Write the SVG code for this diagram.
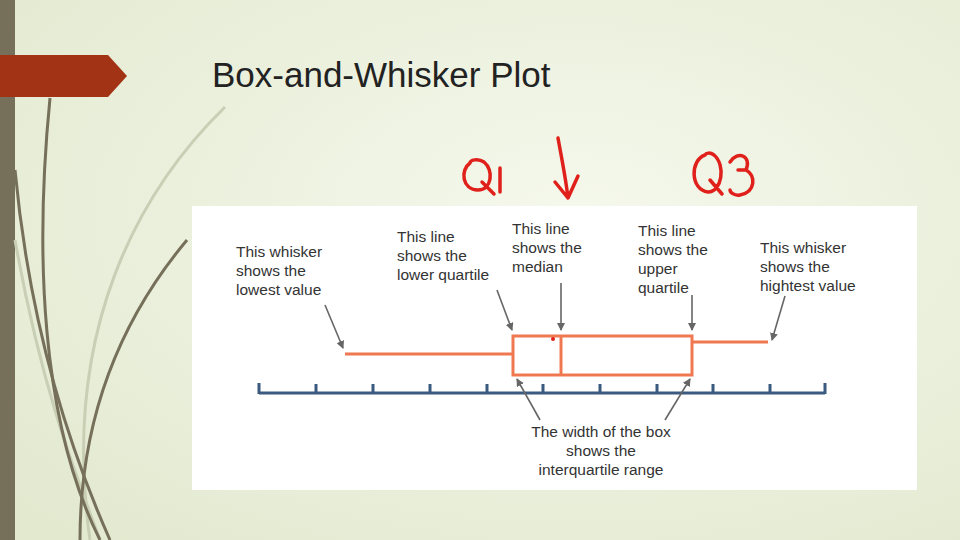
<svg xmlns="http://www.w3.org/2000/svg" width="960" height="540" viewBox="0 0 960 540">
<defs>
<radialGradient id="bg" cx="0.6" cy="0.4" r="0.8"><stop offset="0" stop-color="#f5f8ec"/><stop offset="1" stop-color="#e2e9cf"/></radialGradient>
<marker id="ah" markerWidth="8" markerHeight="8" refX="7" refY="4" orient="auto" markerUnits="userSpaceOnUse"><path d="M0,0 L8,4 L0,8 Z" fill="#666"/></marker>
<style>
.t{font-family:"Liberation Sans",Arial,sans-serif;font-size:15.5px;fill:#333}
.c{stroke:#666;stroke-width:1.6;fill:none;marker-end:url(#ah)}
.o{stroke:#f07850;stroke-width:3;fill:none}
.g{fill:none;stroke:#76705a;stroke-width:3}
.gl{fill:none;stroke:#c9cfb5;stroke-width:3}
.hw{fill:none;stroke:#e0201a;stroke-width:3.5;stroke-linecap:round;stroke-linejoin:round}
</style>
</defs>
<rect width="960" height="540" fill="url(#bg)"/>
<g id="decor">
<rect x="0" y="0" width="15" height="540" fill="#76705a"/>
<path class="gl" d="M225,107 C140,190 60,330 90,540"/>
<path class="gl" d="M15,240 C40,380 70,460 100,540"/>
<path class="g" d="M50,98 C35,250 40,420 100,540"/>
<path class="g" d="M15,170 C30,330 70,450 110,540"/>
<path class="g" d="M187,240 C120,320 80,420 80,540"/>
<path d="M0,55 H108 L127,76 L108,97 H0 Z" fill="#a33315"/>
</g>
<text id="title" x="212" y="87" font-family="Liberation Sans,Arial,sans-serif" font-size="35" fill="#222">Box-and-Whisker Plot</text>
<g id="handwriting">
<path class="hw" d="M470,163 C460,170 462,190 478,190 C492,190 494,170 484,162 C478,158 470,160 470,163 M482,182 L494,194 M500,168 L500,192"/>
<path class="hw" d="M558,138 C562,160 566,180 568,198 M555,182 L568,198 L578,176"/>
<path class="hw" d="M705,155 C690,160 690,190 708,192 C722,192 726,165 714,155 C710,152 706,153 705,155 M710,180 L722,194 M730,162 C738,150 752,156 746,170 C756,175 756,192 740,195 C734,196 730,192 730,190 M738,170 L746,170"/>
</g>
<rect x="192" y="206" width="725" height="284" fill="#fff"/>
<g id="axis" stroke="#3a5a80" stroke-width="3" fill="none">
<path d="M259,393 H825"/>
<path d="M259,383 V394 M316,384 V393 M373,384 V393 M430,384 V393 M487,384 V393 M543,384 V393 M600,384 V393 M657,384 V393 M713,384 V393 M770,384 V393 M825,383 V394"/>
</g>
<g id="plot">
<path class="o" d="M345,354 H513 M692,342 H768"/>
<rect class="o" x="513" y="336" width="179" height="39"/>
<path class="o" d="M561,336 V375"/>
<circle cx="553" cy="339" r="2" fill="#e0201a"/>
</g>
<g id="connectors">
<path class="c" d="M325,305 L343,348"/>
<path class="c" d="M497,290 L512,330"/>
<path class="c" d="M561,283 L561,330"/>
<path class="c" d="M692,295 L692,330"/>
<path class="c" d="M785,296 L772,340"/>
<path class="c" d="M540,420 L517,379"/>
<path class="c" d="M665,420 L690,379"/>
</g>
<g id="n1"><text class="t" x="236" y="257">This whisker</text><text class="t" x="236" y="276">shows the</text><text class="t" x="236" y="295">lowest value</text></g>
<g id="n2"><text class="t" x="397" y="242">This line</text><text class="t" x="397" y="261">shows the</text><text class="t" x="397" y="280">lower quartile</text></g>
<g id="n3"><text class="t" x="512" y="234">This line</text><text class="t" x="512" y="253">shows the</text><text class="t" x="512" y="272">median</text></g>
<g id="n4"><text class="t" x="638" y="236">This line</text><text class="t" x="638" y="255">shows the</text><text class="t" x="638" y="274">upper</text><text class="t" x="638" y="293">quartile</text></g>
<g id="n5"><text class="t" x="760" y="253">This whisker</text><text class="t" x="760" y="272">shows the</text><text class="t" x="760" y="291">hightest value</text></g>
<g id="n6" text-anchor="middle"><text class="t" x="601" y="437">The width of the box</text><text class="t" x="601" y="456">shows the</text><text class="t" x="601" y="475">interquartile range</text></g>
</svg>
